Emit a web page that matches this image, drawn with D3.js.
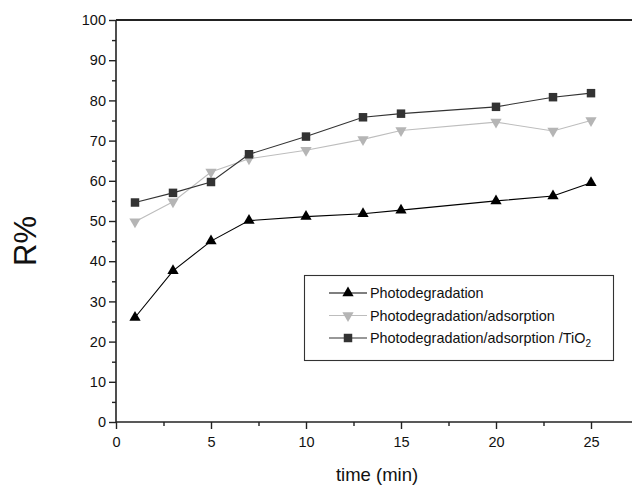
<!DOCTYPE html>
<html><head><meta charset="utf-8">
<script src="https://cdn.jsdelivr.net/npm/d3@7"></script>
<style>body{margin:0;background:#fff}svg{display:block}text{font-family:"Liberation Sans",Arial,sans-serif}</style>
</head><body><svg id="c" width="632" height="486"></svg>
<script>
const time = [1, 3, 5, 7, 10, 13, 15, 20, 23, 25];
const photo = [26.0, 37.6, 45.0, 50.1, 51.1, 51.8, 52.7, 55.0, 56.2, 59.5];
const adsorb = [49.8, 54.8, 62.2, 65.5, 67.6, 70.3, 72.5, 74.6, 72.4, 75.0];
const tio2 = [54.6, 57.0, 59.7, 66.6, 71.0, 75.8, 76.7, 78.4, 80.8, 81.8];
const xTicks = [0, 5, 10, 15, 20, 25];
const xMinor = [2.5, 7.5, 12.5, 17.5, 22.5, 27.5];
const yTicks = [0, 10, 20, 30, 40, 50, 60, 70, 80, 90, 100];
const yMinor = [5, 15, 25, 35, 45, 55, 65, 75, 85, 95];
const seriesNames = ["Photodegradation", "Photodegradation/adsorption", "Photodegradation/adsorption /TiO"];

const svg = d3.select("#c");
const x = d3.scaleLinear().domain([0, 28]).range([116, 116 + 28 * 19]);
const y = d3.scaleLinear().domain([0, 100]).range([422, 20]);

const series = [
  {vals: photo, color: "#000", line: "#000", sym: d3.symbolTriangle, rot: 0, size: 55},
  {vals: adsorb, color: "#b5b5b5", line: "#bdbdbd", sym: d3.symbolTriangle, rot: 180, size: 55},
  {vals: tio2, color: "#333", line: "#333", sym: d3.symbolSquare, rot: 0, size: 72}
];

// axes
const gx = svg.append("g").attr("transform", `translate(0,${y(0)})`);
gx.call(d3.axisBottom(x).tickValues(xTicks).tickSize(7).tickPadding(8).tickFormat(d3.format("d")));
const gxm = svg.append("g").attr("transform", `translate(0,${y(0)})`);
gxm.call(d3.axisBottom(x).tickValues(xMinor).tickSize(4).tickFormat(""));
const gy = svg.append("g").attr("transform", `translate(${x(0)},0)`);
gy.call(d3.axisLeft(y).tickValues(yTicks).tickSize(7).tickPadding(3).tickFormat(d3.format("d")));
const gym = svg.append("g").attr("transform", `translate(${x(0)},0)`);
gym.call(d3.axisLeft(y).tickValues(yMinor).tickSize(4).tickFormat(""));
[gx, gxm, gy, gym].forEach(g => {
  g.select(".domain").attr("stroke", "#222").attr("stroke-width", 1.6);
  g.selectAll(".tick line").attr("stroke", "#222").attr("stroke-width", 1.4);
  g.selectAll(".tick text").attr("fill", "#111").style("font-size", "14.5px").style("font-family", "'Liberation Sans', Arial, sans-serif");
});
gxm.select(".domain").remove(); gym.select(".domain").remove();
gx.select(".domain").attr("d", `M${x(0)},0H632`);
gy.select(".domain").attr("d", `M0,${y(100)}V${y(0)}`);
// top frame
svg.append("line").attr("x1", x(0)).attr("x2", 632).attr("y1", y(100)).attr("y2", y(100))
  .attr("stroke", "#222").attr("stroke-width", 2);

// lines & markers
series.forEach(s => {
  const pts = time.map((t, i) => [t, s.vals[i]]);
  svg.append("path").datum(pts)
    .attr("d", d3.line().x(d => x(d[0])).y(d => y(d[1])))
    .attr("fill", "none").attr("stroke", s.line).attr("stroke-width", 1.1);
  svg.append("g").selectAll("path").data(pts).join("path")
    .attr("d", d3.symbol().type(s.sym).size(s.size))
    .attr("transform", d => `translate(${x(d[0])},${y(d[1])}) rotate(${s.rot})`)
    .attr("fill", s.color);
});

// legend
const lg = svg.append("g");
lg.append("rect").attr("x", 304.5).attr("y", 275.5).attr("width", 309).attr("height", 85)
  .attr("fill", "#fff").attr("stroke", "#333").attr("stroke-width", 1.1);
const rows = [293, 315.5, 338];
series.forEach((s, i) => {
  lg.append("line").attr("x1", 329).attr("x2", 367).attr("y1", rows[i]).attr("y2", rows[i])
    .attr("stroke", s.line).attr("stroke-width", 1.1);
  lg.append("path").attr("d", d3.symbol().type(s.sym).size(s.size))
    .attr("transform", `translate(348,${rows[i]}) rotate(${s.rot})`).attr("fill", s.color);
  const t = lg.append("text").attr("x", 370).attr("y", rows[i] + 5).attr("fill", "#111")
    .style("font-size", "14.4px").text(seriesNames[i]);
  if (i === 2) t.append("tspan").attr("dy", 4).style("font-size", "10px").text("2");
});

// axis titles
svg.append("text").attr("x", 377).attr("y", 481).attr("text-anchor", "middle")
  .attr("fill", "#111").style("font-size", "18.5px").text("time (min)");
svg.append("text").attr("transform", "translate(36,241) rotate(-90)").attr("text-anchor", "middle")
  .attr("fill", "#111").style("font-size", "31px").text("R%");
</script></body></html>
